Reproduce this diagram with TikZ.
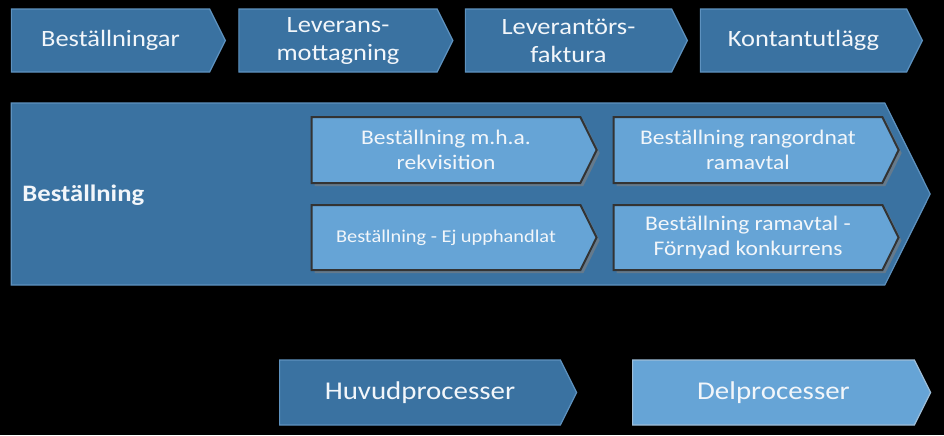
\documentclass[tikz,border=0pt]{standalone}
\usepackage{fontspec}
\setmainfont{Carlito}[FakeStretch=1.13]
\usetikzlibrary{shapes.symbols,shadows}

\definecolor{mainblue}{HTML}{3A72A1}
\definecolor{subblue}{HTML}{66A4D6}
\definecolor{edgeblue}{HTML}{5E92BF}
\definecolor{labelwhite}{HTML}{F2F6FA}

\begin{document}
\begin{tikzpicture}[x=0.5pt, y=-0.5pt,
    chevron/.style={signal, signal to=east, signal pointer angle=127,
        inner sep=0pt, text=labelwhite, align=center},
    mainproc/.style={chevron, fill=mainblue, draw=edgeblue, line width=0.6pt},
    subproc/.style={chevron, fill=subblue, draw=black!80, line width=1pt,
        drop shadow={shadow xshift=1.5pt, shadow yshift=-1.5pt, opacity=.6}},
    topfont/.style={font=\fontsize{11.7}{14}\selectfont},
    subfont/.style={font=\fontsize{10.4}{12.8}\selectfont}]

    \fill[black] (0,0) rectangle (944,435);

    % top row
    \node[mainproc, topfont, minimum width=107pt, minimum height=31.5pt] (orders) at (110.5,40.5) {Beställningar};
    \node[mainproc, topfont, minimum width=107pt, minimum height=31.5pt] (delivery) at (338,40.5) {Leverans-\\mottagning};
    \node[mainproc, topfont, minimum width=111pt, minimum height=31.5pt] (invoice) at (568.5,40.5) {Leverantörs-\\faktura};
    \node[mainproc, topfont, minimum width=111pt, minimum height=31.5pt] (cash) at (803.5,40.5) {Kontantutlägg};

    % main process with its sub processes
    \node[mainproc, minimum width=459.5pt, minimum height=91pt] (order) at (448,194) {};
    \node[anchor=west, inner sep=0pt, text=labelwhite, font=\fontsize{11.8}{14}\selectfont\bfseries] (ordertitle) at (22,195) {Beställning};

    \node[subproc, subfont, minimum width=142.5pt, minimum height=33pt] (requisition) at (446,150) {Beställning m.h.a.\\rekvisition};
    \node[subproc, subfont, minimum width=142.5pt, minimum height=33pt] (ranked) at (748,150) {Beställning rangordnat\\ramavtal};
    \node[subproc, font=\fontsize{9}{11}\selectfont, minimum width=142.5pt, minimum height=32.5pt] (unprocured) at (446,237.5) {Beställning - Ej upphandlat};
    \node[subproc, subfont, minimum width=142.5pt, minimum height=32.5pt] (renewed) at (748,237.5) {Beställning ramavtal -\\Förnyad konkurrens};

    % legend
    \node[mainproc, font=\fontsize{12.8}{15}\selectfont, minimum width=148.5pt, minimum height=32.5pt] (mainkey) at (420,392.5) {Huvudprocesser};
    \node[chevron, fill=subblue, draw=edgeblue!60!white, line width=0.6pt, font=\fontsize{12.8}{15}\selectfont, minimum width=149pt, minimum height=32.5pt] (subkey) at (773.5,392.5) {Delprocesser};
\end{tikzpicture}
\end{document}
